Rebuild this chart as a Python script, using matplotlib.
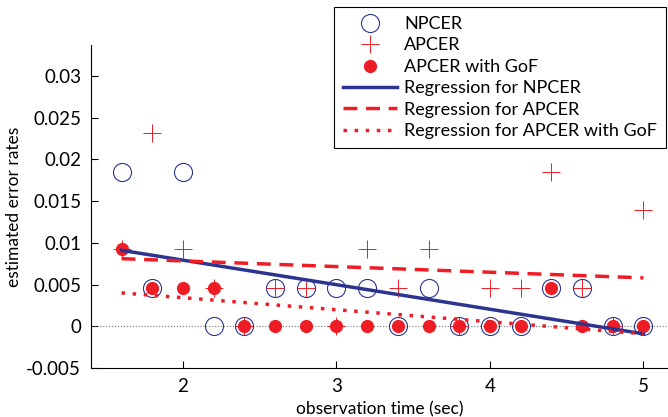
import matplotlib
matplotlib.use("Agg")
import matplotlib.pyplot as plt

plt.rcParams['font.family'] = ['Lato', 'DejaVu Sans']

# observation times (sec)
t = [1.6, 1.8, 2.0, 2.2, 2.4, 2.6, 2.8, 3.0, 3.2, 3.4,
     3.6, 3.8, 4.0, 4.2, 4.4, 4.6, 4.8, 5.0]

# estimated error rates
npcer = [0.0185, 0.0046, 0.0185, 0, 0, 0.0046, 0.0046, 0.0046, 0.0046, 0,
         0.0046, 0, 0, 0, 0.0046, 0.0046, 0, 0]
apcer = [0.0093, 0.0231, 0.0093, 0.0046, 0, 0.0046, 0.0046, 0, 0.0093, 0.0046,
         0.0093, 0, 0.0046, 0.0046, 0.0185, 0.0046, 0, 0.0139]
apcer_gof = [0.0093, 0.0046, 0.0046, 0.0046, 0, 0, 0, 0, 0, 0,
             0, 0, 0, 0, 0.0046, 0, 0, 0]

# regression lines (end points)
reg_x = [1.6, 5.0]
reg_npcer = [0.0091, -0.0009]
reg_apcer = [0.0081, 0.0058]
reg_gof = [0.0040, -0.0009]

blue = '#2b3590'
red = '#ee1c25'

fig = plt.figure(figsize=(6.68, 4.17), dpi=100)
ax = fig.add_axes([0.136, 0.1175, 0.864, 0.7745])

ax.plot([1.4, 5.16], [0, 0], color='#777777', linestyle=':', linewidth=0.8)

ax.plot(t, npcer, 'o', markersize=13, markerfacecolor='none',
        markeredgecolor=blue, markeredgewidth=0.8, label='NPCER')
ax.plot(t, apcer, '+', markersize=13, color=red, markeredgewidth=0.7,
        label='APCER')
ax.plot(t, apcer_gof, 'o', markersize=8.5, color=red, label='APCER with GoF')

ax.plot(reg_x, reg_npcer, '-', color=blue, linewidth=2.5,
        label='Regression for NPCER')
ax.plot(reg_x, reg_apcer, '--', color=red, linewidth=2.5, dashes=(4, 2.5),
        label='Regression for APCER')
ax.plot(reg_x, reg_gof, ':', color=red, linewidth=2.5, dashes=(1, 2.2),
        label='Regression for APCER with GoF')

ax.set_xlim(1.4, 5.16)
ax.set_ylim(-0.005, 0.0337)
ax.set_xticks([2, 3, 4, 5])
ax.set_xticklabels(['2', '3', '4', '5'])
ax.set_yticks([-0.005, 0, 0.005, 0.01, 0.015, 0.02, 0.025, 0.03])
ax.set_yticklabels(['-0.005', '0', '0.005', '0.01', '0.015', '0.02',
                    '0.025', '0.03'])
ax.tick_params(direction='in', length=5, width=0.8, labelsize=13.5, pad=7)
ax.spines['top'].set_visible(False)
ax.spines['right'].set_visible(False)

ax.set_xlabel('observation time (sec)', fontsize=12.5, labelpad=5)
ax.set_ylabel('estimated error rates', fontsize=12.5, labelpad=3)

leg = fig.legend(loc='upper right', bbox_to_anchor=(666 / 668, 1 - 7 / 417),
                 fontsize=13, fancybox=False, edgecolor='black',
                 framealpha=1, handlelength=3.0, labelspacing=0.3,
                 borderpad=0.5, borderaxespad=0, handletextpad=0.4)
leg.get_frame().set_linewidth(0.8)

fig.savefig('out.png', dpi=100)
